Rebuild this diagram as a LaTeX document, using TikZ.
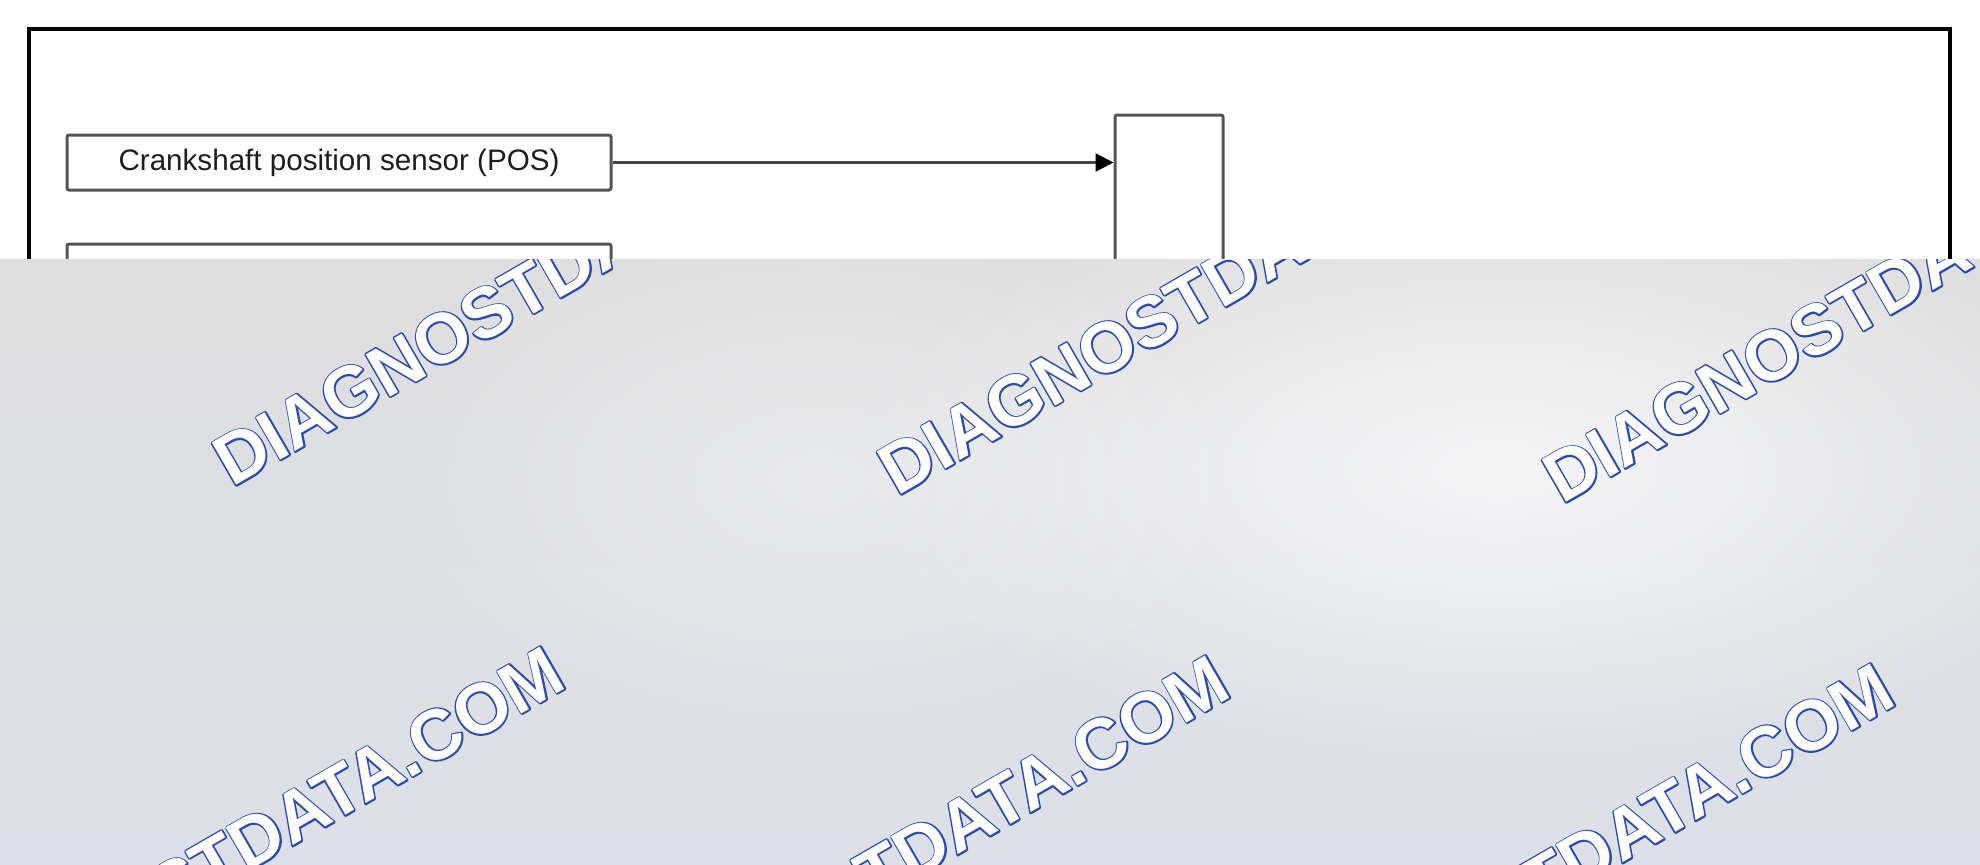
\documentclass[tikz,border=0pt]{standalone}
\usepackage{fontspec}
\setmainfont{Liberation Sans}
\newfontfamily\wmfont{Liberation Sans}
\usetikzlibrary{arrows.meta,fadings}
\definecolor{boxgray}{HTML}{555555}
\definecolor{arrowgray}{HTML}{444444}
\definecolor{txtdark}{HTML}{1E1E1E}
\definecolor{bandtop}{HTML}{DFDFDF}
\definecolor{bandbot}{HTML}{DDE0E8}
\definecolor{wmblue}{HTML}{2A4AAE}
\tikzfading[name=softglow, inner color=transparent!0, outer color=transparent!100]
\tikzset{
  blockbox/.style={draw=boxgray, line width=1.5pt, fill=white, inner sep=0pt,
    rounded corners=1pt, font=\fontsize{14.8}{17}\selectfont, text=txtdark},
  framebox/.style={line width=2.3pt, draw=black},
  wmstyle/.style={anchor=base west, inner sep=0pt, rotate=30,
    font=\wmfont\bfseries\fontsize{35.5}{40}\selectfont},
  wmfill/.style={wmstyle, text=white},
  wmline/.style={wmstyle, text=wmblue},
  sigarrow/.style={draw=arrowgray, line width=1.2pt,
    -{Triangle[length=9pt,width=9pt,color=black]}}
}
\newcommand{\strokedtext}[1]{%
  \special{pdf:literal direct 1 Tr 1.5 w 1 j 0.165 0.29 0.68 RG}#1\special{pdf:literal direct 0 Tr}}
\newcommand{\wmark}[2]{%
  \node[wmline] (#1o) at (#2) {\strokedtext{DIAGNOSTDATA.COM}};
  \node[wmfill] (#1) at (#2) {DIAGNOSTDATA.COM};
}
\begin{document}
\begin{tikzpicture}[x=0.5pt,y=-0.5pt]
\useasboundingbox (0,0) rectangle (1980,864);
\fill[white] (0,0) rectangle (1980,864);
% outer frame
\draw[framebox] (29,900) -- (29,29) -- (1950,29) -- (1950,900);
% blocks
\node[blockbox, minimum width=272pt, minimum height=27.5pt] (pos) at (339,162.5)
  {Crankshaft position sensor (POS)};
\node[blockbox, minimum width=272pt, minimum height=27.5pt] (second) at (339,271.5) {};
\node[blockbox, minimum width=54pt, minimum height=152.5pt] (ecm) at (1169,267.5) {};
\draw[sigarrow] (pos.east) -- (pos.east -| ecm.west);
% watermark band
\begin{scope}
  \clip (0,259) rectangle (1980,864);
  \shade[top color=bandtop, bottom color=bandbot] (0,259) rectangle (1980,864);
  \fill[white, opacity=0.7, path fading=softglow] (1500,470) ellipse (650 and 300);
  \fill[white, opacity=0.35, path fading=softglow] (820,480) ellipse (450 and 260);
  \wmark{wmA}{232,488}
  \wmark{wmB}{897,497}
  \wmark{wmC}{1562,505}
  \wmark{wmD}{-78,1060}
  \wmark{wmE}{587,1069}
  \wmark{wmF}{1252,1077}
\end{scope}
\end{tikzpicture}
\end{document}
